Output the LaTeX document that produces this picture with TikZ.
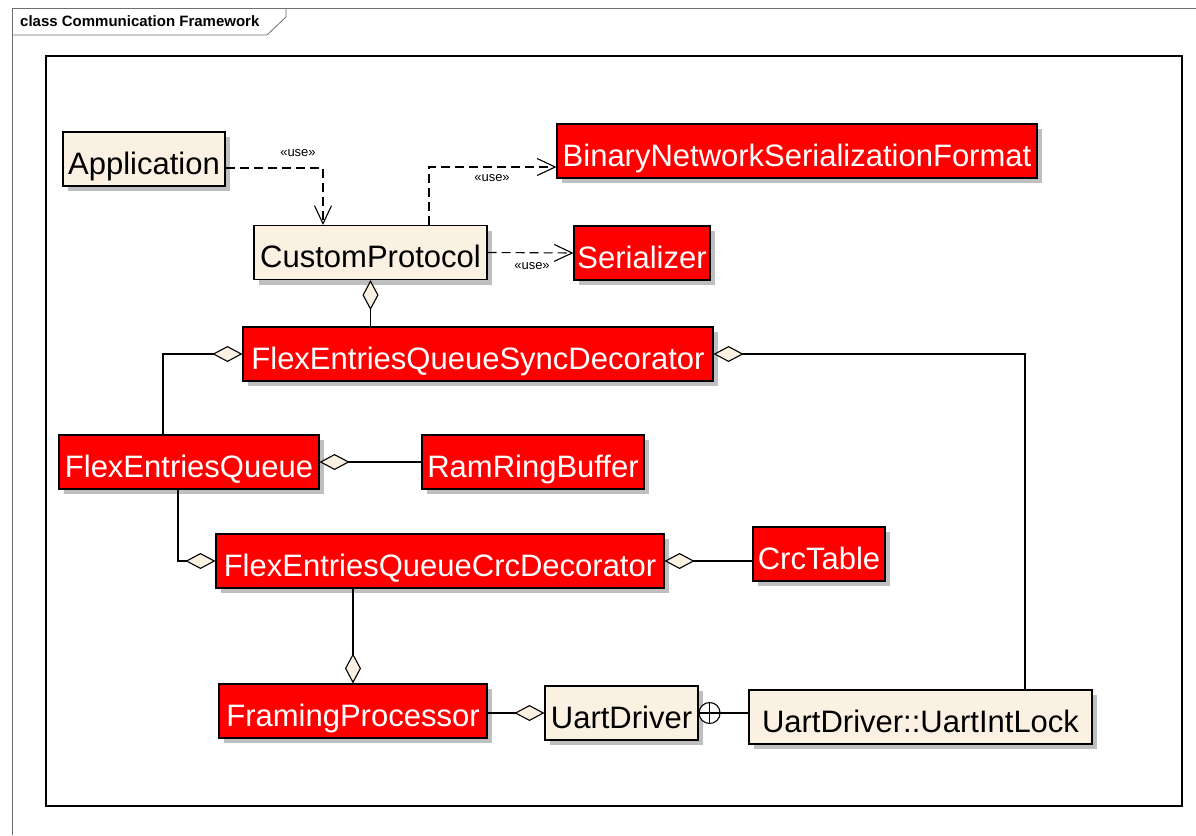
\documentclass[tikz,border=0pt]{standalone}
\usepackage{fontspec}
\setmainfont{Liberation Sans}
\usetikzlibrary{arrows.meta, positioning, calc, shadows}
\definecolor{ClassCream}{RGB}{251, 241, 227}
\definecolor{ClassRed}{RGB}{255, 0, 0}
\definecolor{FrameGray}{RGB}{110, 110, 110}

\begin{document}
\begin{tikzpicture}[x=1pt, y=-1pt,
    cls/.style={draw, line width=1.1pt, fill=ClassCream, minimum height=54pt, inner sep=0pt,
        text height=30pt, text depth=0pt, font=\fontsize{31}{36}\selectfont,
        drop shadow={shadow xshift=5pt, shadow yshift=-5pt, fill=black!25, opacity=1}},
    redcls/.style={cls, fill=ClassRed, text=white},
    dep/.style={line width=1.1pt, dash pattern=on 9pt off 5pt, -{Straight Barb[length=18pt, width=17pt]}},
    agg/.style={line width=1.1pt, {Diamond[length=30pt, width=16pt, fill=ClassCream]}-},
    usetag/.style={font=\fontsize{13}{15}\selectfont, inner sep=0pt}]
    \useasboundingbox (0,0) rectangle (1196,835);
    % frames
    \draw[FrameGray, line width=0.8pt] (12,835) |- (1196,8);
    \draw[FrameGray, line width=0.8pt] (12,35) -- (267,35) -- (286,17) -- (286,8);
    \node[anchor=west, inner sep=0pt, font=\fontsize{15}{17}\selectfont\bfseries] (title) at (20,21) {class Communication Framework};
    \draw[line width=1.3pt] (46,56) rectangle (1182,806);

    % classes
    \node[cls, minimum width=162pt] (app) at (144,159) {Application};
    \node[cls, minimum width=233pt] (proto) at (370.5,252.5) {CustomProtocol};
    \node[redcls, minimum width=480pt] (bnsf) at (797,151) {BinaryNetworkSerializationFormat};
    \node[redcls, minimum width=136pt] (ser) at (642,253) {Serializer};
    \node[redcls, minimum width=470pt] (sync) at (478,354) {FlexEntriesQueueSyncDecorator};
    \node[redcls, minimum width=260pt] (feq) at (189,462) {FlexEntriesQueue};
    \node[redcls, minimum width=222pt] (ram) at (533,462) {RamRingBuffer};
    \node[redcls, minimum width=448pt] (crc) at (440,561) {FlexEntriesQueueCrcDecorator};
    \node[redcls, minimum width=132pt] (crctab) at (819,554) {CrcTable};
    \node[redcls, minimum width=268pt] (framing) at (353,711) {FramingProcessor};
    \node[cls, minimum width=153pt] (uart) at (621.5,713) {UartDriver};
    \node[cls, minimum width=343pt] (lock) at (920.5,717) {UartDriver::UartIntLock};

    % dependencies
    \draw[dep] ([yshift=-9pt]app.east) -| ([xshift=-47.5pt]proto.north);
    \draw[dep] ([xshift=58.5pt]proto.north) |- ([yshift=-16pt]bnsf.west);
    \draw[dep] (proto.east) -- (ser.west);
    \node[usetag] (use1) at (298,153) {«use»};
    \node[usetag] (use2) at (492,178) {«use»};
    \node[usetag] (use3) at (532,266) {«use»};

    % aggregations
    \draw[agg] (proto.south) -- (proto.south |- sync.north);
    \draw[agg] (sync.west) -| ([xshift=-26pt]feq.north);
    \draw[agg] (sync.east) -| ([xshift=104.5pt]lock.north);
    \draw[agg] (feq.east) -- (ram.west);
    \draw[agg] (crc.west) -| ([xshift=-11pt]feq.south);
    \draw[agg] (crc.east) -- (crc.east -| crctab.west);
    \draw[agg] (framing.north) -- (framing.north |- crc.south);
    \draw[agg] (uart.west) -- (uart.west -| framing.east);

    % nesting
    \node[circle, draw, line width=1.1pt, fill=white, minimum size=21pt, inner sep=0pt, anchor=west] (nest) at (uart.east) {};
    \draw[line width=1.1pt] (nest.north) -- (nest.south) (nest.west) -- (nest.east);
    \draw[line width=1.1pt] (nest.east) -- (nest.east -| lock.west);
\end{tikzpicture}
\end{document}
